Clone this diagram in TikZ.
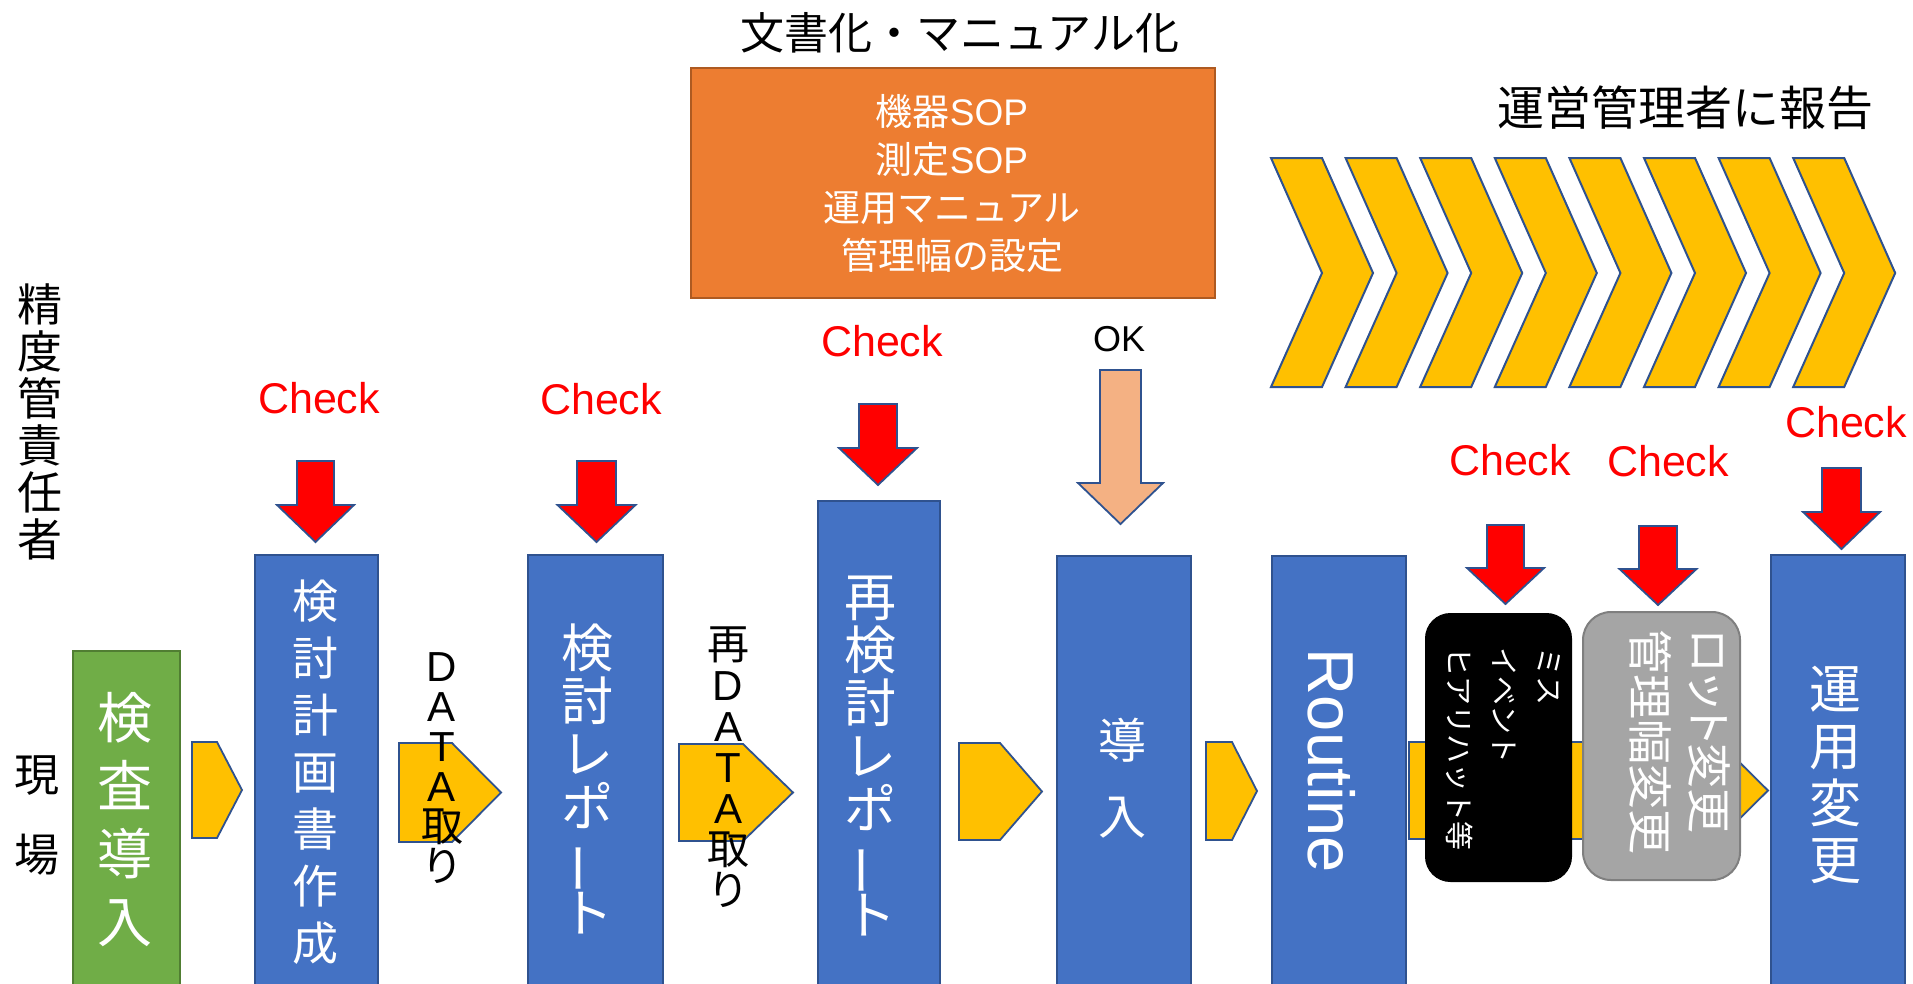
\documentclass[tikz,border=0pt]{standalone}
\usepackage{fontspec}
\usepackage{graphicx}
\setmainfont{Noto Sans CJK JP}
\newfontfamily\lat{Liberation Sans}
\newfontfamily\jpp[RawFeature=+palt]{Noto Sans CJK JP}
\newcommand\fs[2]{\fontsize{#1}{#2}\selectfont}
\newcommand\vbar{\smash{\rotatebox[origin=c]{90}{ー}}}
\definecolor{bluefill}{HTML}{4472C4}
\definecolor{blueline}{HTML}{2F528F}
\definecolor{greenfill}{HTML}{70AD47}
\definecolor{greenline}{HTML}{507E32}
\definecolor{orangefill}{HTML}{ED7D31}
\definecolor{orangeline}{HTML}{AE5A21}
\definecolor{yellowfill}{HTML}{FFC000}
\definecolor{peachfill}{HTML}{F4B183}
\definecolor{greyfill}{HTML}{A5A5A5}
\definecolor{greyline}{HTML}{7F7F7F}
\definecolor{redfill}{HTML}{FF0000}
\tikzset{
  bluebox/.style={draw=blueline, fill=bluefill, line width=2pt, anchor=north west, inner sep=0pt},
  wtext/.style={text=white, align=center, inner sep=0pt},
  btext/.style={text=black, align=center, inner sep=0pt},
  checklbl/.style={text=redfill, font=\lat\fs{43}{43}, inner sep=0pt},
  pentagon/.style={draw=blueline, fill=yellowfill, line width=1.8pt, line join=miter},
  blockarrow/.style={draw=blueline, fill=redfill, line width=1.8pt, line join=miter},
  chevron/.style={draw=blueline, fill=yellowfill, line width=2pt, line join=miter},
}
% pentagon: left, shoulder, tip, top, bottom
\newcommand\pent[5]{\draw[pentagon] (#1,#4) -- (#2,#4) -- (#3,{(#4+#5)/2}) -- (#2,#5) -- (#1,#5) -- cycle;}
% down arrow: style, cx, shaft half width, wing half width, top, base, tip
\newcommand\darrow[7]{\draw[#1] ({#2-#3},#5) -- ({#2+#3},#5) -- ({#2+#3},#6) -- ({#2+#4},#6) -- (#2,#7) -- ({#2-#4},#6) -- ({#2-#3},#6) -- cycle;}
\newcommand\chev[1]{\draw[chevron] (#1,158) -- ({#1+51},158) -- ({#1+102},273) -- ({#1+51},387) -- (#1,387) -- ({#1+51},273) -- cycle;}
\begin{document}
\begin{tikzpicture}[x=1pt,y=-1pt]
\useasboundingbox (0,0) rectangle (1913,983);
\clip (0,0) rectangle (1913,983);

% titles
\node[btext, font=\fs{44}{44}] (title1) at (960,33) {文書化・マニュアル化};
\node[btext, font=\fs{47}{47}] (title2) at (1685,108) {運営管理者に報告};

% orange box
\node[draw=orangeline, fill=orangefill, line width=2pt, anchor=north west, minimum width=524pt, minimum height=230pt, inner sep=0pt] (docbox) at (690,67) {};
\node[wtext, font=\fs{37}{48}] (doctext) at (952,184) {機器{\lat SOP}\\測定{\lat SOP}\\運用マニュアル\\管理幅の設定};

% chevrons
\foreach \i in {0,...,7} {\pgfmathsetmacro\cx{1271+74.6*\i}\chev{\cx}}

% left labels
\node[btext, font=\fs{45}{47}] (roleA) at (40,422) {精\\度\\管\\責\\任\\者};
\node[btext, font=\fs{45}{45}] (roleB1) at (37,776) {現};
\node[btext, font=\fs{45}{45}] (roleB2) at (37,855) {場};

% pentagons
\pent{192}{217}{242}{742}{838}
\pent{399}{452}{501}{743}{842}
\pent{679}{743}{793}{744}{841}
\pent{959}{1000}{1042}{743}{840}
\pent{1206}{1232}{1257}{742}{840}
\pent{1409}{1719}{1768}{742}{839}

% boxes
\node[draw=greenline, fill=greenfill, line width=2pt, anchor=north west, inner sep=0pt, minimum width=107pt, minimum height=345pt] (inspect) at (72,650) {};
\node[bluebox, minimum width=123pt, minimum height=440pt] (plan) at (254,554) {};
\node[bluebox, minimum width=135pt, minimum height=440pt] (report) at (527,554) {};
\node[bluebox, minimum width=122pt, minimum height=495pt] (rereport) at (817,500) {};
\node[bluebox, minimum width=134pt, minimum height=440pt] (intro) at (1056,555) {};
\node[bluebox, minimum width=134pt, minimum height=440pt] (routine) at (1271,555) {};
\node[bluebox, minimum width=134pt, minimum height=440pt] (change) at (1770,554) {};
\node[draw=black, fill=black, line width=1pt, rounded corners=25pt, anchor=north west, inner sep=0pt, minimum width=146pt, minimum height=268pt] (miss) at (1425,613) {};
\node[draw=greyline, fill=greyfill, line width=2pt, rounded corners=28pt, anchor=north west, inner sep=0pt, minimum width=157pt, minimum height=268pt] (lot) at (1582,611) {};

% box texts
\node[wtext, font=\fs{55}{68}] (inspectT) at (125,820) {検\\査\\導\\入};
\node[wtext, font=\fs{46}{57}] (planT) at (315,772) {検\\討\\計\\画\\書\\作\\成};
\node[wtext, font=\fs{52}{53}] (reportT) at (587,779) {検\\討\\レ\\ポ\\\vbar\\ト};
\node[wtext, font=\fs{52}{53}] (rereportT) at (870,756) {再\\検\\討\\レ\\ポ\\\vbar\\ト};
\node[wtext, font=\fs{48}{76}] (introT) at (1122,778) {導\\入};
\node[wtext, font=\lat\fs{65}{65}, rotate=-90] (routineT) at (1332,761) {Routine};
\node[wtext, font=\fs{52}{57}] (changeT) at (1835,775) {運\\用\\変\\更};
\node[text=white, align=left, inner sep=0pt, font=\fs{29}{45}, rotate=-90] (missT) at (1503,749) {ミス\\イベント\\ヒアリハット等};
\node[text=white, align=left, inner sep=0pt, font=\fs{45}{59}, rotate=-90] (lotT) at (1680,742) {{\jpp ロット変更}\\管理幅変更};

% data labels
\node[btext, font=\fs{42}{40}] (data1) at (442,768) {{\lat D}\\{\lat A}\\{\lat T}\\{\lat A}\\取\\り};
\node[btext, font=\fs{42}{41}] (data2) at (728,767) {再\\{\lat D}\\{\lat A}\\{\lat T}\\{\lat A}\\取\\り};

% red check arrows
\darrow{blockarrow}{315.5}{18.5}{38.5}{461}{505}{542}
\darrow{blockarrow}{596.5}{19.5}{39}{461}{505}{542}
\darrow{blockarrow}{878}{19}{39}{404}{448}{485}
\darrow{blockarrow}{1505.5}{18.5}{38.5}{525}{568}{604}
\darrow{blockarrow}{1658}{19}{38.5}{526}{569}{605}
\darrow{blockarrow}{1841.5}{19.5}{38.5}{468}{512}{549}
% OK arrow
\darrow{draw=blueline, fill=peachfill, line width=1.8pt, line join=miter}{1120.5}{20.5}{42.5}{370}{483}{524}

% check labels
\node[checklbl] (chk1) at (319,398) {Check};
\node[checklbl] (chk2) at (601,399) {Check};
\node[checklbl] (chk3) at (882,341) {Check};
\node[checklbl] (chk4) at (1510,460) {Check};
\node[checklbl] (chk5) at (1668,461) {Check};
\node[checklbl] (chk6) at (1846,422) {Check};
\node[btext, font=\lat\fs{36}{36}] (ok) at (1119,339) {OK};
\end{tikzpicture}
\end{document}
